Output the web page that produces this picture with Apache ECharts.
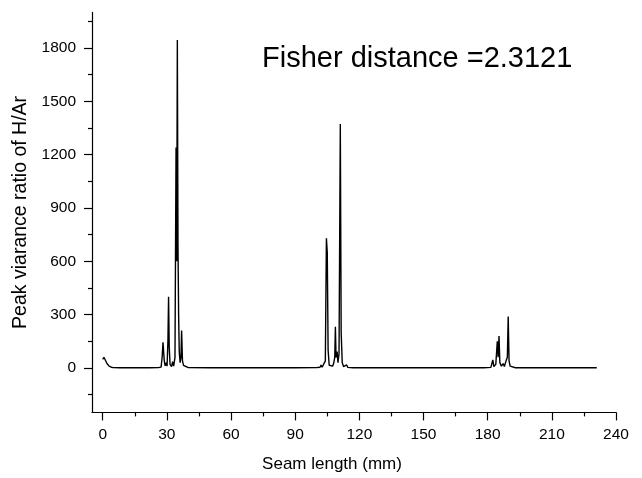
<!DOCTYPE html>
<html>
<head>
<meta charset="utf-8">
<script src="https://cdn.jsdelivr.net/npm/echarts@6/dist/echarts.min.js"></script>
<style>
  html, body { margin: 0; padding: 0; background: #fff; }
  #chart { width: 642px; height: 478px; }
</style>
</head>
<body>
<div id="chart"></div>
<script>
// Seam length (mm)
const seamX = [
  0, 0.6, 1.2, 2, 3, 4, 5, 8, 15, 22, 26,
  27.3, 27.8, 28.2, 28.5, 28.8, 29.2, 29.7, 30.1, 30.5, 30.8, 31.1, 31.5,
  32.2, 32.7, 33.2, 33.8, 34.3, 34.6, 34.9, 35.2, 35.5, 35.8, 36.2, 36.6,
  36.9, 37.3, 37.8, 38.5, 40, 50, 70, 90, 100,
  101.6, 102.1, 102.6, 103.5, 104.1, 104.6, 105.0, 105.4, 105.9, 106.5,
  107.5, 108.0, 108.5, 108.8, 109.1, 109.6, 110.0, 110.5, 111.1, 111.5,
  112.0, 112.6, 113.5, 114.1, 114.6, 117, 150, 178,
  181.5, 182.4, 182.9, 183.8, 184.5, 184.9, 185.3, 185.7, 186.4, 187.2,
  187.8, 188.6, 189.2, 189.6, 190.0, 190.5, 191.3, 193, 200, 210, 220, 231
];
// Peak variance ratio of H/Ar
const ratioY = [
  48, 60, 45, 25, 10, 4, 2, 1, 1, 1, 2,
  5, 60, 145, 90, 40, 12, 30, 10, 150, 400, 120, 20,
  8, 35, 10, 60, 1240, 600, 1845, 700, 300, 90, 30, 60,
  210, 40, 15, 5, 2, 1, 1, 1, 2,
  4, 17, 4, 8, 40, 730, 650, 100, 15, 5,
  10, 26, 60, 232, 60, 92, 30, 80, 1372, 200,
  30, 8, 5, 17, 3, 1, 1, 1,
  3, 45, 8, 20, 150, 60, 180, 30, 10, 25,
  8, 40, 60, 290, 40, 10, 3, 1, 1, 1, 1, 1
];
const xMajorTicks = [0, 30, 60, 90, 120, 150, 180, 210, 240];
const xMinorTicks = [15, 45, 75, 105, 135, 165, 195, 225];
const yMajorTicks = [0, 300, 600, 900, 1200, 1500, 1800];
const yMinorTicks = [-150, 150, 450, 750, 1050, 1350, 1650, 1950];
const annotation = 'Fisher distance =2.3121';

const FONT = '"Liberation Sans", Arial, sans-serif';
const chart = echarts.init(document.getElementById('chart'), null, { renderer: 'canvas' });
const lineData = seamX.map((x, i) => [x, ratioY[i]]);
const plain = v => String(v);

const baseX = {
  type: 'value', min: -5, max: 240, position: 'bottom',
  splitLine: { show: false }
};
const baseY = {
  type: 'value', min: -250, max: 2000, position: 'left',
  splitLine: { show: false }
};

chart.setOption({
  animation: false,
  backgroundColor: '#fff',
  grid: { left: 92, right: 26, top: 12.4, bottom: 65.6, containLabel: false },
  xAxis: [
    Object.assign({}, baseX, {
      name: 'Seam length (mm)', nameLocation: 'middle', nameGap: 43,
      nameTextStyle: { fontFamily: FONT, fontSize: 17, color: '#000', padding: [0, 44, 0, 0] },
      axisLine: { show: true, onZero: false, lineStyle: { color: '#000', width: 1.2 } },
      axisTick: { show: true, length: 8, customValues: xMajorTicks, lineStyle: { color: '#000', width: 1.2 } },
      axisLabel: { show: true, customValues: xMajorTicks, margin: 14, fontFamily: FONT, fontSize: 15.5, color: '#000', formatter: plain }
    }),
    Object.assign({}, baseX, {
      axisLine: { show: false, onZero: false },
      axisTick: { show: true, length: 4, customValues: xMinorTicks, lineStyle: { color: '#000', width: 1.2 } },
      axisLabel: { show: false }
    })
  ],
  yAxis: [
    Object.assign({}, baseY, {
      name: 'Peak viarance ratio of H/Ar', nameLocation: 'middle', nameGap: 50,
      nameTextStyle: { fontFamily: FONT, fontSize: 19.5, color: '#000' },
      axisLine: { show: true, onZero: false, lineStyle: { color: '#000', width: 1.2 } },
      axisTick: { show: true, length: 8, customValues: yMajorTicks, lineStyle: { color: '#000', width: 1.2 } },
      axisLabel: { show: true, customValues: yMajorTicks, margin: 16, fontFamily: FONT, fontSize: 15.5, color: '#000', formatter: plain }
    }),
    Object.assign({}, baseY, {
      axisLine: { show: false, onZero: false },
      axisTick: { show: true, length: 4, customValues: yMinorTicks, lineStyle: { color: '#000', width: 1.2 } },
      axisLabel: { show: false }
    })
  ],
  graphic: [{
    type: 'text', left: 262, top: 44,
    style: { text: annotation, fontFamily: FONT, fontSize: 29, fill: '#000' }
  }],
  series: [{
    type: 'line', xAxisIndex: 0, yAxisIndex: 0,
    data: lineData, showSymbol: false, symbol: 'none',
    lineStyle: { color: '#000', width: 1.4 }
  }]
});
</script>
</body>
</html>
